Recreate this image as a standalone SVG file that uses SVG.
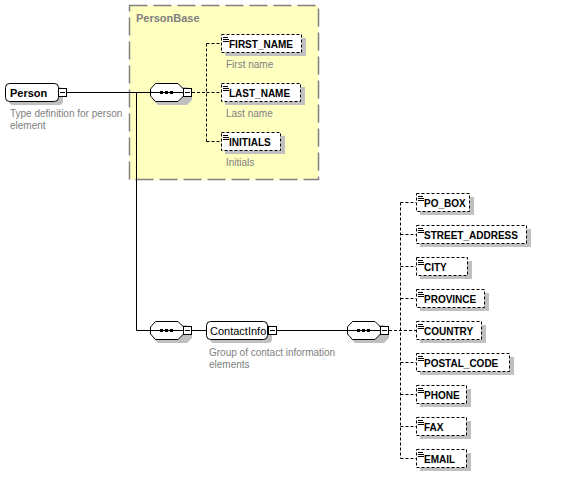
<svg xmlns="http://www.w3.org/2000/svg" width="561" height="477" viewBox="0 0 561 477">
<style>
.bg{fill:#ffffff}
.grp{fill:#ffffc0;stroke:#808080;stroke-width:1.5;stroke-dasharray:18 6}
.grpt{font-family:"Liberation Sans",Arial,sans-serif;font-size:11px;font-weight:bold;fill:#808080}
.sh{fill:#c0c0c0;stroke:none}
.box{fill:#ffffff;stroke:#000000;stroke-width:1}
.dbox{fill:#ffffff;stroke:#000000;stroke-width:1;stroke-dasharray:3 2}
.lbl{font-family:"Liberation Sans",Arial,sans-serif;font-size:10px;font-weight:bold;fill:#000000}
.lbl11{font-family:"Liberation Sans",Arial,sans-serif;font-size:11px;font-weight:bold;fill:#000000}
.nlbl{font-family:"Liberation Sans",Arial,sans-serif;font-size:11px;fill:#000000}
.desc{font-family:"Liberation Sans",Arial,sans-serif;font-size:10px;fill:#808080}
.ln{stroke:#000000;stroke-width:1;fill:none}
.dl{stroke:#000000;stroke-width:1;fill:none;stroke-dasharray:3 2}
.ico{stroke:#000000;stroke-width:1}
</style>
<defs>
<g id="minus"><rect x="0.5" y="0.5" width="8" height="8" fill="#ffffff" stroke="#000000"/><line x1="2" y1="4.5" x2="7" y2="4.5" stroke="#000000"/></g>
<g id="seq">
<polygon points="8,4 37,4 42,9 42,17 37,22 8,22 3,17 3,9" class="sh"/>
<polygon points="5.5,0.5 28,0.5 33.5,6 33.5,13 28,18.5 5.5,18.5 0.5,13 0.5,6" class="box"/>
<line x1="0.5" y1="9.5" x2="33.5" y2="9.5" class="ln"/>
<rect x="10" y="8" width="3" height="3" fill="#000"/>
<rect x="15" y="8" width="3" height="3" fill="#000"/>
<rect x="20" y="8" width="3" height="3" fill="#000"/>
<use href="#minus" x="33" y="5"/>
</g>
<g id="ico"><line x1="2" y1="2.5" x2="7" y2="2.5" class="ico"/><line x1="2" y1="4.5" x2="8" y2="4.5" class="ico"/><line x1="2" y1="6.5" x2="8" y2="6.5" class="ico"/></g>
</defs>
<rect x="0" y="0" width="561" height="477" class="bg"/>

<g id="PersonBase">
<rect x="129.5" y="5.5" width="189" height="174" class="grp"/>
<text x="136" y="22" class="grpt">PersonBase</text>
</g>

<g id="connectors">
<line x1="67" y1="92.5" x2="150" y2="92.5" class="ln"/>
<polyline points="136.5,92.5 136.5,330.5 150,330.5" class="ln"/>
<line x1="192" y1="92.5" x2="206.5" y2="92.5" class="dl"/>
<line x1="206.5" y1="43.5" x2="206.5" y2="141.5" class="dl"/>
<line x1="206.5" y1="43.5" x2="221" y2="43.5" class="dl"/>
<line x1="206.5" y1="92.5" x2="221" y2="92.5" class="dl"/>
<line x1="206.5" y1="141.5" x2="221" y2="141.5" class="dl"/>
<line x1="192" y1="330.5" x2="206" y2="330.5" class="ln"/>
<line x1="277" y1="330.5" x2="347" y2="330.5" class="ln"/>
<line x1="389" y1="330.5" x2="416" y2="330.5" class="dl"/>
<line x1="400.5" y1="202.5" x2="400.5" y2="458.5" class="dl"/>
<line x1="400.5" y1="202.5" x2="416" y2="202.5" class="dl"/>
<line x1="400.5" y1="234.5" x2="416" y2="234.5" class="dl"/>
<line x1="400.5" y1="266.5" x2="416" y2="266.5" class="dl"/>
<line x1="400.5" y1="298.5" x2="416" y2="298.5" class="dl"/>
<line x1="400.5" y1="362.5" x2="416" y2="362.5" class="dl"/>
<line x1="400.5" y1="394.5" x2="416" y2="394.5" class="dl"/>
<line x1="400.5" y1="426.5" x2="416" y2="426.5" class="dl"/>
<line x1="400.5" y1="458.5" x2="416" y2="458.5" class="dl"/>
</g>

<g id="Person">
<rect x="9" y="87" width="54" height="18" rx="4" class="sh"/>
<rect x="5.5" y="83.5" width="53" height="18" rx="4" class="box"/>
<text x="10" y="97" class="lbl11">Person</text>
<use href="#minus" x="58" y="88"/>
<text x="10" y="117" class="desc">Type definition for person</text>
<text x="10" y="129" class="desc">element</text>
</g>

<g id="seq1"><use href="#seq" x="150" y="83"/></g>

<g id="FIRST_NAME">
<rect x="225" y="38" width="81" height="18" class="sh"/>
<rect x="221.5" y="34.5" width="80" height="18" class="dbox"/>
<use href="#ico" x="221" y="35"/>
<text x="229" y="48" class="lbl">FIRST_NAME</text>
<text x="226" y="68" class="desc">First name</text>
</g>
<g id="LAST_NAME">
<rect x="225" y="87" width="80" height="18" class="sh"/>
<rect x="221.5" y="83.5" width="79" height="18" class="dbox"/>
<use href="#ico" x="221" y="84"/>
<text x="229" y="97" class="lbl">LAST_NAME</text>
<text x="226" y="117" class="desc">Last name</text>
</g>
<g id="INITIALS">
<rect x="225" y="136" width="60" height="18" class="sh"/>
<rect x="221.5" y="132.5" width="59" height="18" class="dbox"/>
<use href="#ico" x="221" y="133"/>
<text x="229" y="146" class="lbl">INITIALS</text>
<text x="226" y="166" class="desc">Initials</text>
</g>

<g id="seq2"><use href="#seq" x="150" y="321"/></g>

<g id="ContactInfo">
<rect x="210" y="325" width="62" height="18" rx="4" class="sh"/>
<rect x="206.5" y="321.5" width="61" height="18" rx="4" class="box"/>
<text x="210" y="335" class="nlbl">ContactInfo</text>
<use href="#minus" x="268" y="326"/>
<text x="209" y="356" class="desc">Group of contact information</text>
<text x="209" y="368" class="desc">elements</text>
</g>

<g id="seq3"><use href="#seq" x="347" y="321"/></g>

<g id="PO_BOX">
<rect x="420" y="197" width="54" height="18" class="sh"/>
<rect x="416.5" y="193.5" width="53" height="18" class="dbox"/>
<use href="#ico" x="416" y="194"/>
<text x="424" y="207" class="lbl">PO_BOX</text>
</g>
<g id="STREET_ADDRESS">
<rect x="420" y="229" width="111" height="18" class="sh"/>
<rect x="416.5" y="225.5" width="110" height="18" class="dbox"/>
<use href="#ico" x="416" y="226"/>
<text x="424" y="239" class="lbl">STREET_ADDRESS</text>
</g>
<g id="CITY">
<rect x="420" y="261" width="52" height="18" class="sh"/>
<rect x="416.5" y="257.5" width="51" height="18" class="dbox"/>
<use href="#ico" x="416" y="258"/>
<text x="424" y="271" class="lbl">CITY</text>
</g>
<g id="PROVINCE">
<rect x="420" y="293" width="69" height="18" class="sh"/>
<rect x="416.5" y="289.5" width="68" height="18" class="dbox"/>
<use href="#ico" x="416" y="290"/>
<text x="424" y="303" class="lbl">PROVINCE</text>
</g>
<g id="COUNTRY">
<rect x="420" y="325" width="66" height="18" class="sh"/>
<rect x="416.5" y="321.5" width="65" height="18" class="dbox"/>
<use href="#ico" x="416" y="322"/>
<text x="424" y="335" class="lbl">COUNTRY</text>
</g>
<g id="POSTAL_CODE">
<rect x="420" y="357" width="94" height="18" class="sh"/>
<rect x="416.5" y="353.5" width="93" height="18" class="dbox"/>
<use href="#ico" x="416" y="354"/>
<text x="424" y="367" class="lbl">POSTAL_CODE</text>
</g>
<g id="PHONE">
<rect x="420" y="389" width="51" height="18" class="sh"/>
<rect x="416.5" y="385.5" width="50" height="18" class="dbox"/>
<use href="#ico" x="416" y="386"/>
<text x="424" y="399" class="lbl">PHONE</text>
</g>
<g id="FAX">
<rect x="420" y="421" width="51" height="18" class="sh"/>
<rect x="416.5" y="417.5" width="50" height="18" class="dbox"/>
<use href="#ico" x="416" y="418"/>
<text x="424" y="431" class="lbl">FAX</text>
</g>
<g id="EMAIL">
<rect x="420" y="453" width="51" height="18" class="sh"/>
<rect x="416.5" y="449.5" width="50" height="18" class="dbox"/>
<use href="#ico" x="416" y="450"/>
<text x="424" y="463" class="lbl">EMAIL</text>
</g>
</svg>
